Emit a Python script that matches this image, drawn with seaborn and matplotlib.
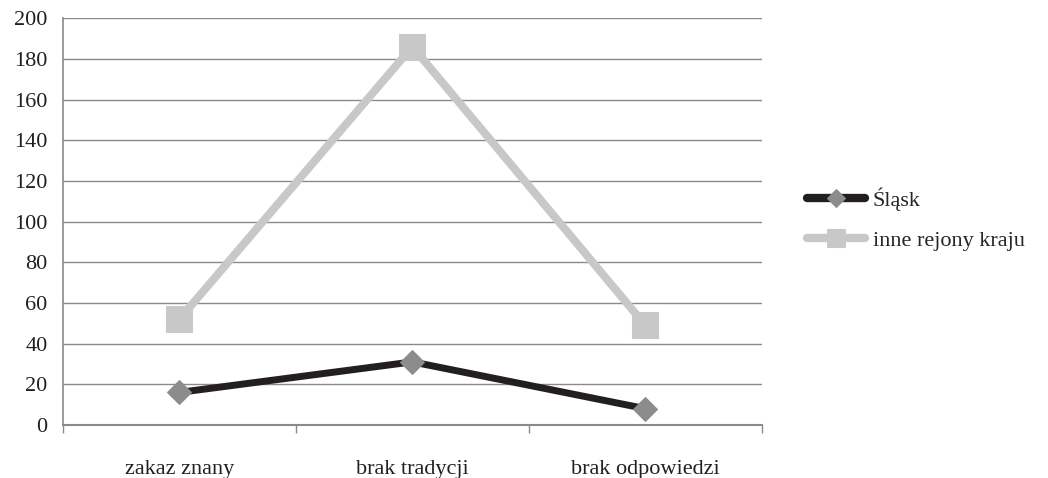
import pandas as pd
import matplotlib.pyplot as plt
import seaborn as sns

# values
categories = ["zakaz znany", "brak tradycji", "brak odpowiedzi"]
slask = [16, 31, 8]
inne = [52, 186, 49]
series_names = ["Śląsk", "inne rejony kraju"]

df = pd.DataFrame({
    "kategoria": categories * 2,
    "wartosc": slask + inne,
    "region": [series_names[0]] * 3 + [series_names[1]] * 3,
})
df["pos"] = df["kategoria"].map({c: i for i, c in enumerate(categories)})

sns.set_style("white")
plt.rcParams["font.family"] = ["Liberation Serif", "DejaVu Serif"]

fig = plt.figure(figsize=(10.48, 4.78), dpi=100)
ax = fig.add_axes([0.060, 0.111, 0.667, 0.851])

sns.lineplot(data=df, x="pos", y="wartosc", hue="region", style="region",
             palette={series_names[0]: "#231f20", series_names[1]: "#c8c8c8"},
             markers={series_names[0]: "D", series_names[1]: "s"},
             dashes=False, ax=ax, legend=False, sort=False)

line_w = {series_names[0]: 5.0, series_names[1]: 5.8}
mk = {series_names[0]: ("#8c8c8c", 12), series_names[1]: ("#c8c8c8", 19)}
for line, name in zip(ax.get_lines(), series_names):
    line.set_linewidth(line_w[name])
    line.set_markerfacecolor(mk[name][0])
    line.set_markeredgecolor(mk[name][0])
    line.set_markersize(mk[name][1])
    line.set_label(name)
    line.set_solid_capstyle("round")

ax.set_xlim(-0.5, 2.5)
ax.set_ylim(0, 200)
ax.set_yticks(range(0, 201, 20))
ax.yaxis.grid(True, color="#8a8a8a", linewidth=1.0)
ax.set_axisbelow(True)

ax.set_xticks(range(3))
ax.set_xticklabels(categories)
ax.set_xticks([-0.5, 0.5, 1.5, 2.5], minor=True)
ax.tick_params(axis="x", which="major", length=0, pad=25, labelsize=16, colors="#231f20")
ax.tick_params(axis="x", which="minor", length=6, width=1, color="#8a8a8a", direction="out", bottom=True)
ax.tick_params(axis="y", length=7, width=1, color="#8a8a8a", labelcolor="#231f20", pad=4, labelsize=16)
ax.set_xlabel("")
ax.set_ylabel("")

for s in ["top", "right"]:
    ax.spines[s].set_visible(False)
ax.spines["left"].set_color("#8a8a8a")
ax.spines["bottom"].set_color("#8a8a8a")
ax.spines["left"].set_linewidth(1.2)
ax.spines["bottom"].set_linewidth(1.5)

leg = ax.legend(loc="center left", bbox_to_anchor=(1.036, 0.506), frameon=False,
                fontsize=16, handlelength=2.6, labelspacing=0.9, handletextpad=0.36)
for hl, size in zip(leg.get_lines(), [9, 13]):
    hl.set_markersize(size)
    hl.set_linewidth(6)

fig.savefig("out.png", dpi=100)
